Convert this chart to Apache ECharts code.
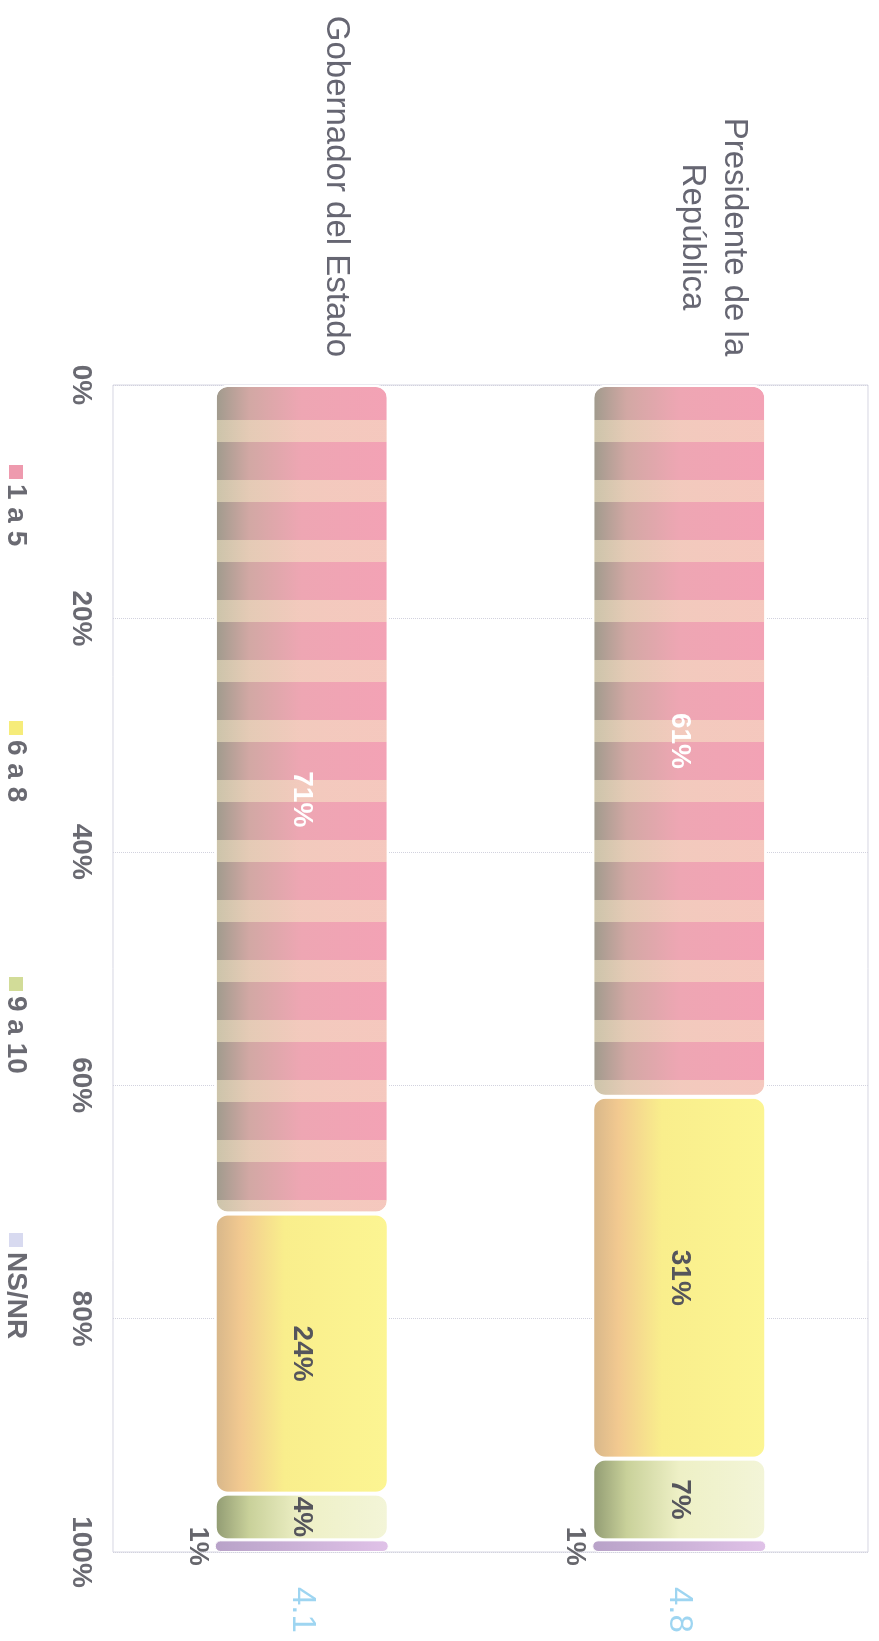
<!DOCTYPE html>
<html><head><meta charset="utf-8">
<script src="https://cdn.jsdelivr.net/npm/echarts@6/dist/echarts.min.js"></script>
<style>
html,body{margin:0;padding:0;background:#fff;overflow:hidden;width:879px;height:1641px;}
#wrap{position:absolute;left:0;top:0;width:1641px;height:879px;transform-origin:0 0;transform:translate(879px,0) rotate(90deg);}
#chart{width:1641px;height:879px;}
</style></head><body>
<div id="wrap"><div id="chart"></div></div>
<script>
// ---- data ----
const categories = ['Gobernador del Estado', 'Presidente de la\nRepública'];
const seriesNames = ['1 a 5', '6 a 8', '9 a 10', 'NS/NR'];
const val1a5 = [71, 61];
const val6a8 = [24, 31];
const val9a10 = [4, 7];
const valNSNR = [1, 1];
const promedios = [4.1, 4.8];
const axisMin = 0, axisMax = 100, axisStep = 20;

// ---- styles ----
const FONT = '"Liberation Sans", Arial, Helvetica, sans-serif';
function grad(stops) {
  return { type: 'linear', x: 0, y: 0, x2: 0, y2: 1,
    colorStops: stops.map(s => ({ offset: s[0], color: s[1] })) };
}
const colors = {
  '1 a 5': grad([[0, '#f3a2b5'], [0.5, '#eea6b3'], [0.8, '#d2a8a4'], [1, '#9e9a8c']]),
  '6 a 8': grad([[0, '#fcf592'], [0.6, '#f9ee8c'], [0.85, '#f2c990'], [1, '#d6b68a']]),
  '9 a 10': grad([[0, '#f3f5d8'], [0.5, '#eef0c6'], [0.8, '#c9d19a'], [1, '#909a72']]),
  'NS/NR': grad([[0, '#e0c2e8'], [1, '#b8a2c8']])
};
const legendColors = ['#ee9aae', '#f6ec7a', '#d2dc98', '#d8daf0'];
const legendLeft = 460, legendStep = 256;
const textGray = '#6a6a72';

function bar(name, data, label, decal, bw) {
  const s = {
    name, type: 'bar', stack: 'total', data, barWidth: 174,
    itemStyle: { color: colors[name], borderRadius: 12, borderColor: '#ffffff', borderWidth: bw == null ? 2 : bw },
    label: Object.assign({ show: true, fontFamily: FONT, fontSize: 28, fontWeight: 'bold',
      formatter: '{c}%' }, label)
  };
  if (decal) s.itemStyle.decal = decal;
  return s;
}

const totals = categories.map((c, i) => val1a5[i] + val6a8[i] + val9a10[i] + valNSNR[i]);

const legends = seriesNames.map((n, i) => ({
  data: [{ name: n, itemStyle: { color: legendColors[i], borderWidth: 0, decal: 'none' } }],
  left: legendLeft + i * legendStep, top: 844, itemWidth: 14, itemHeight: 14, icon: 'rect',
  textStyle: { fontFamily: FONT, fontSize: 28, fontWeight: 'bold', color: textGray }
}));

const option = {
  backgroundColor: '#ffffff',
  animation: false,
  grid: { left: 385, right: 89, top: 11, bottom: 113, show: true,
    borderColor: '#d6d6e2', borderWidth: 1, containLabel: false },
  legend: legends,
  xAxis: {
    type: 'value', min: axisMin, max: axisMax, interval: axisStep,
    axisLine: { show: false }, axisTick: { show: false },
    splitLine: { show: true, lineStyle: { color: '#d2d2de', type: 'dotted', width: 1 } },
    axisLabel: { formatter: '{value}%', fontFamily: FONT, fontSize: 28, fontWeight: 'bold',
      color: textGray, margin: 18 }
  },
  yAxis: {
    type: 'category', data: categories,
    axisLine: { show: false }, axisTick: { show: false },
    axisLabel: {
      margin: 28, fontFamily: FONT, fontSize: 33, color: '#666672', lineHeight: 42,
      padding: [0, 0, 68, 0],
      formatter: function (v) {
        const lines = v.split('\n');
        if (lines.length === 1) return v;
        return lines.map(l => '{m|' + l + '}').join('\n');
      },
      rich: { m: { width: 240, align: 'center', fontFamily: FONT, fontSize: 33,
        color: '#666672', lineHeight: 42 } }
    }
  },
  series: [
    bar('1 a 5', val1a5, { position: 'inside', color: '#ffffff' },
      { symbol: 'rect', symbolSize: 1, color: 'rgba(247,238,200,0.5)',
        dashArrayX: [22, 38], dashArrayY: [1, 0] }),
    bar('6 a 8', val6a8, { position: 'inside', color: '#55555c' }),
    bar('9 a 10', val9a10, { position: 'inside', color: '#55555c' }),
    bar('NS/NR', valNSNR, { position: 'bottom', distance: 4, color: '#66666c', fontSize: 27 }, null, 1),
    {
      name: 'Promedio', type: 'scatter', symbolSize: 0, silent: true,
      data: totals.map((t, i) => [t, i]),
      label: { show: true, position: 'right', distance: 35, fontFamily: FONT, fontSize: 33,
        color: '#86cbee', formatter: p => promedios[p.dataIndex].toFixed(1) }
    }
  ]
};

const chart = echarts.init(document.getElementById('chart'), null, { renderer: 'canvas' });
chart.setOption(option);
</script>
</body></html>
